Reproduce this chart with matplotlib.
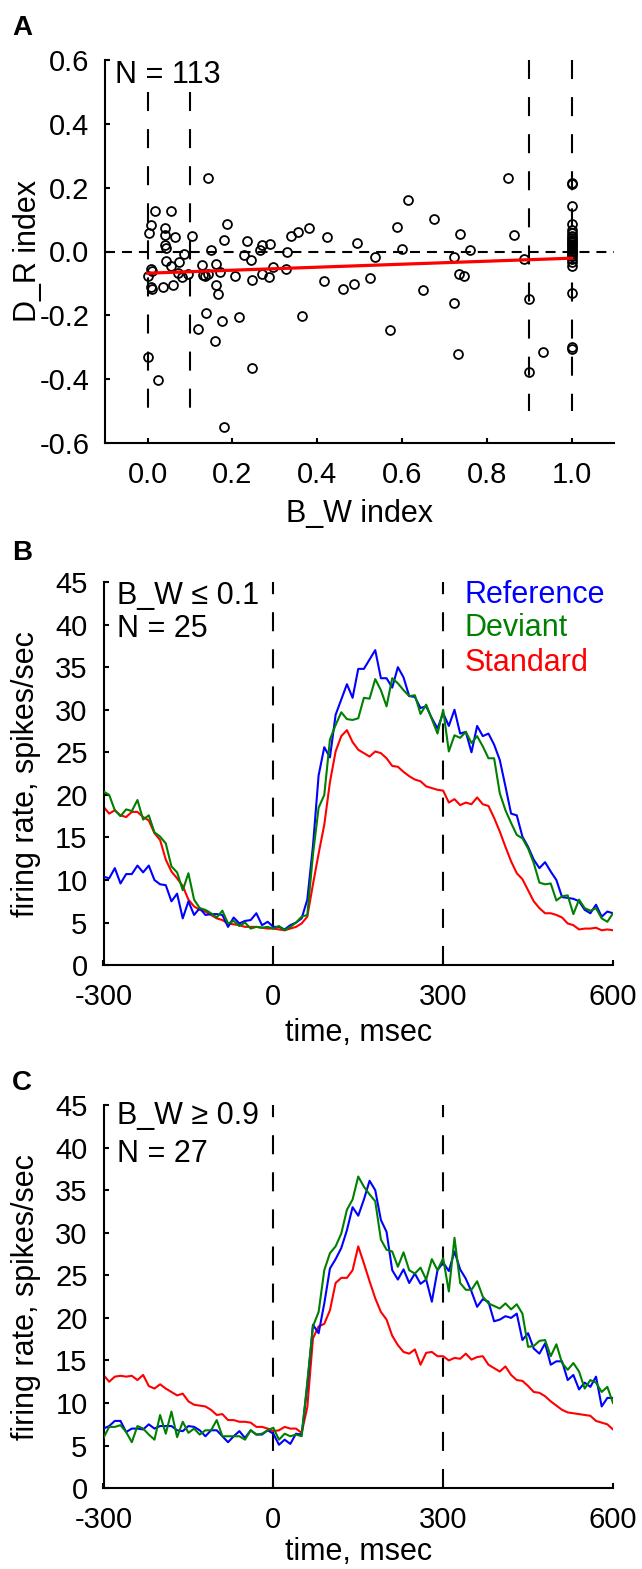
import matplotlib
matplotlib.use("Agg")
import matplotlib.pyplot as plt
import numpy as np

plt.rcParams['font.family'] = ['Liberation Sans', 'DejaVu Sans']
plt.rcParams['axes.unicode_minus'] = False
plt.rcParams['lines.scale_dashes'] = False

# ---------------- Panel A data ----------------
bw_index = [
    # B_W <= 0.1
    0.017, 0.054, 0.008, 0.002, 0.042, 0.042, 0.064, 0.042, 0.044, 0.086,
    0.044, 0.055, 0.075, 0.071, 0.082, 0.008, 0.009, 0.000, 0.008, 0.009,
    0.035, 0.060, 0.096, 0.000, 0.024,
    # 0.1 < B_W < 0.9
    0.1415, 0.105, 0.188, 0.179, 0.150, 0.234, 0.269, 0.127, 0.130, 0.136,
    0.143, 0.161, 0.170, 0.206, 0.228, 0.244, 0.246, 0.269, 0.264, 0.160,
    0.167, 0.137, 0.119, 0.176, 0.215, 0.159, 0.245, 0.179,
    0.288, 0.287, 0.295, 0.328, 0.327, 0.337, 0.354, 0.380, 0.422, 0.415,
    0.363, 0.461, 0.487, 0.494, 0.524, 0.536, 0.571, 0.587, 0.600, 0.613,
    0.649, 0.675, 0.723, 0.723, 0.737, 0.735, 0.745, 0.732,
    0.761, 0.851, 0.865, 0.887,
    # B_W >= 0.9
    0.900, 0.900, 0.932,
    1.0, 1.0, 1.0, 1.0, 1.0, 1.0, 1.0, 1.0, 1.0, 1.0, 1.0, 1.0,
    1.0, 1.0, 1.0, 1.0, 1.0, 1.0, 1.0, 1.0, 1.0, 1.0, 1.0, 1.0,
]
dr_index = [
    0.126, 0.127, 0.084, 0.058, 0.075, 0.052, 0.046, 0.021, 0.011, -0.008,
    -0.031, -0.046, -0.033, -0.066, -0.081, -0.056, -0.062, -0.077, -0.112, -0.118,
    -0.111, -0.106, -0.072, -0.331, -0.403,
    0.229, 0.047, 0.085, 0.036, 0.006, 0.033, 0.019, -0.042, -0.074, -0.078,
    -0.070, -0.040, -0.063, -0.076, -0.011, -0.027, -0.088, -0.070, 0.006, -0.106,
    -0.133, -0.192, -0.243, -0.217, -0.204, -0.281, -0.365, -0.549,
    0.025, -0.080, -0.047, -0.001, -0.055, 0.048, 0.061, 0.073, 0.046, -0.093,
    -0.202, -0.119, -0.103, 0.027, -0.084, -0.018, -0.245, 0.078, 0.007, 0.161,
    -0.122, 0.101, -0.016, -0.161, 0.055, -0.071, -0.077, -0.320,
    0.006, 0.229, 0.051, -0.023,
    -0.148, -0.377, -0.316,
    0.216, 0.212, 0.144, 0.087, 0.066, 0.058, 0.050, 0.043, 0.036, 0.030, 0.024, 0.019,
    0.013, 0.008, 0.003, -0.002, -0.008, -0.013, -0.023, -0.033, -0.044, -0.131, -0.300, -0.304,
]
fit_x = [0.0, 1.0]
fit_y = [-0.068, -0.021]

# ---------------- Panels B / C data ----------------
time_ms = list(range(-300, 601, 10))

b_reference = [
    10.4, 10.2, 11.4, 9.6, 10.7, 10.7, 11.7, 10.9, 11.7, 10.0,
    9.5, 9.4, 7.5, 8.4, 5.5, 7.5, 5.9, 6.7, 5.9, 6.0,
    6.0, 5.9, 4.5, 5.6, 4.9, 5.2, 5.3, 6.1, 4.7, 5.1,
    4.5,
    4.5, 4.2, 4.7, 5.0, 5.5, 7.7, 14.0, 22.3, 25.6, 24.4,
    29.4, 31.2, 33.0, 31.4, 34.8, 34.8, 35.9, 37.0, 33.7, 33.7,
    32.6, 35.0, 33.8, 31.6, 31.5, 30.2, 30.4, 29.0, 27.8, 29.6,
    28.1, 30.0, 27.2, 27.4, 25.0, 28.1, 26.9, 27.2, 25.9, 24.1,
    21.0, 17.8, 17.6, 15.1, 13.9, 12.4, 11.4, 12.1, 11.0, 10.0,
    8.0, 7.9, 7.8, 7.5, 6.5, 6.1, 7.1, 5.7, 6.3, 6.1,
]
b_deviant = [
    20.4, 20.0, 18.2, 17.5, 18.3, 18.1, 19.4, 17.1, 17.6, 15.6,
    15.1, 14.3, 11.6, 10.9, 8.8, 10.8, 7.7, 6.7, 6.5, 6.1,
    5.6, 6.4, 4.9, 5.2, 4.6, 5.0, 4.3, 4.5, 4.4, 4.5,
    4.3,
    4.6, 4.1, 4.5, 5.0, 5.7, 5.9, 13.0, 18.5, 20.0, 26.5,
    28.2, 29.7, 28.9, 28.8, 29.0, 31.4, 31.3, 33.6, 32.3, 30.4,
    33.7, 33.1, 32.3, 31.6, 31.7, 29.5, 30.6, 28.9, 27.2, 30.0,
    25.1, 27.0, 26.7, 27.4, 26.1, 26.9, 25.7, 24.3, 24.3, 20.2,
    18.2, 16.7, 15.3, 14.9, 13.7, 12.0, 9.7, 9.5, 9.6, 7.6,
    8.1, 8.2, 6.0, 7.7, 6.7, 6.4, 6.7, 5.5, 5.1, 6.1,
]
b_standard = [
    18.6, 17.8, 18.2, 17.6, 17.4, 18.0, 18.0, 17.4, 17.0, 15.5,
    14.7, 12.4, 11.0, 10.2, 9.3, 7.7, 6.9, 6.5, 6.3, 5.9,
    5.5, 5.3, 4.9, 4.8, 4.7, 4.5, 4.5, 4.5, 4.4, 4.3,
    4.3,
    4.2, 4.1, 4.3, 4.5, 4.9, 5.7, 9.5, 13.1, 16.5, 21.5,
    25.1, 26.9, 27.6, 26.2, 25.3, 24.9, 24.5, 25.1, 24.9, 24.3,
    23.4, 23.3, 22.7, 22.2, 21.8, 21.6, 21.0, 20.8, 20.6, 20.5,
    19.1, 19.5, 18.8, 19.1, 18.9, 19.7, 18.9, 18.7, 17.3, 15.7,
    13.9, 12.2, 10.8, 10.1, 8.8, 7.5, 6.7, 6.1, 6.1, 5.9,
    5.6, 4.9, 4.7, 4.2, 4.3, 4.3, 4.4, 4.1, 4.2, 4.1,
]

c_reference = [
    7.0, 7.3, 7.9, 7.9, 6.6, 7.0, 7.0, 6.9, 7.5, 7.0,
    7.3, 7.3, 7.3, 6.8, 6.7, 7.3, 7.2, 6.8, 6.1, 6.8,
    6.8, 6.1, 5.4, 6.1, 6.7, 5.9, 6.8, 6.3, 6.3, 6.8,
    6.4,
    5.1, 5.7, 5.2, 6.4, 6.3, 12.0, 19.2, 18.2, 21.7, 25.8,
    26.9, 28.2, 30.3, 33.0, 32.0, 33.9, 36.1, 35.0, 31.5, 30.1,
    25.6, 24.5, 25.7, 24.1, 25.2, 24.0, 24.5, 21.9, 25.6, 26.5,
    25.5, 27.8, 25.7, 24.6, 23.1, 21.3, 22.2, 21.9, 19.6, 19.8,
    20.2, 20.0, 20.5, 17.4, 18.2, 16.4, 15.8, 17.0, 14.5, 14.9,
    14.9, 12.7, 13.3, 11.6, 12.4, 11.9, 13.1, 9.6, 10.6, 10.6,
]
c_deviant = [
    5.9, 7.2, 7.2, 7.4, 6.6, 5.4, 7.3, 7.0, 6.3, 5.7,
    8.6, 6.4, 9.0, 6.0, 7.8, 6.5, 7.0, 6.3, 6.8, 6.8,
    8.0, 6.1, 6.1, 6.1, 6.1, 5.7, 6.8, 6.3, 6.4, 6.8,
    7.1,
    5.7, 6.4, 6.1, 6.3, 6.1, 12.5, 19.0, 20.7, 25.6, 27.6,
    28.4, 29.9, 32.7, 33.9, 36.6, 35.4, 34.5, 33.7, 29.2, 28.0,
    27.8, 26.0, 27.7, 25.6, 25.2, 25.9, 24.5, 26.9, 25.6, 27.0,
    23.1, 29.4, 24.1, 23.3, 23.3, 24.3, 22.5, 21.7, 21.4, 21.1,
    21.7, 21.0, 21.6, 20.5, 16.6, 16.7, 17.3, 17.4, 15.5, 16.9,
    14.7, 13.9, 14.7, 13.7, 11.7, 12.7, 12.4, 11.3, 11.9, 10.0,
]
c_standard = [
    13.3, 12.5, 13.1, 13.2, 13.1, 13.2, 12.7, 13.3, 12.0, 11.7,
    12.2, 11.7, 11.3, 10.9, 11.1, 10.2, 9.8, 9.7, 9.6, 9.2,
    8.6, 8.7, 8.0, 8.0, 7.8, 7.8, 7.7, 7.2, 7.2, 7.0,
    6.7,
    6.8, 7.2, 7.0, 7.0, 6.5, 9.5, 17.6, 19.0, 19.3, 20.9,
    24.1, 24.7, 24.7, 25.6, 28.4, 26.4, 24.3, 22.3, 20.7, 19.8,
    17.9, 16.8, 16.0, 15.8, 16.3, 14.5, 15.9, 16.0, 15.5, 15.5,
    15.0, 15.3, 15.2, 15.8, 15.1, 15.4, 15.5, 14.5, 14.1, 13.7,
    14.3, 13.3, 12.7, 12.6, 12.0, 11.3, 11.2, 10.8, 10.2, 9.7,
    9.2, 8.9, 8.8, 8.7, 8.6, 8.5, 7.9, 7.7, 7.5, 6.9,
]

a_yticks = [-0.6, -0.4, -0.2, 0.0, 0.2, 0.4, 0.6]
a_xticks = [0.0, 0.2, 0.4, 0.6, 0.8, 1.0]
psth_xticks = [-300, 0, 300, 600]
psth_yticks = [0, 5, 10, 15, 20, 25, 30, 35, 40, 45]
legend_names = ["Reference", "Deviant", "Standard"]
legend_colors = ["#0000ff", "#008000", "#ff0000"]

FS = 22       # labels / annotations
FS_TICK = 21  # tick labels
W, H = 642, 1569
fig = plt.figure(figsize=(W / 100, H / 100), dpi=100)


def style_axes(ax):
    for s in ("top", "right"):
        ax.spines[s].set_visible(False)
    for s in ("left", "bottom"):
        ax.spines[s].set_linewidth(1.5)
    ax.tick_params(direction="in", length=3.5, width=1.5, labelsize=FS_TICK)
    ax.tick_params(axis="x", pad=13.0)
    ax.tick_params(axis="y", pad=11.5)


# ---------------- Panel A ----------------
axA = fig.add_axes([105.3 / W, 1 - 443 / H, 508.7 / W, 383 / H])
style_axes(axA)
axA.set_xlim(-0.1, 1.1)
axA.set_ylim(-0.6, 0.6)
axA.set_xticks(a_xticks)
axA.set_xticklabels([f"{v:.1f}" for v in a_xticks])
axA.set_yticks(a_yticks)
axA.set_yticklabels([f"{v:.1f}" for v in a_yticks])
for xv, top in [(0.0, 0.5), (0.1, 0.5), (0.9, 0.6), (1.0, 0.6)]:
    axA.plot([xv, xv], [top, -0.5], color="k", lw=1.5, dashes=(13.7, 13), zorder=1)
axA.plot([-0.1, 1.1], [0, 0], color="k", lw=1.5, dashes=(7.2, 5), zorder=1)
axA.plot(bw_index, dr_index, "o", mfc="none", mec="k", ms=6.4, mew=1.3, zorder=2,
         clip_on=False)
axA.plot(fit_x, fit_y, color="#ff0000", lw=2.3, zorder=3)
axA.set_xlabel("B_W index", fontsize=FS)
axA.xaxis.set_label_coords(0.5, -0.147)
axA.set_ylabel("D_R index", fontsize=FS)
axA.yaxis.set_label_coords(-0.1225, 0.5)
axA.text(0.02, 0.94, "N = 113", transform=axA.transAxes, fontsize=FS,
         ha="left", va="baseline")


# ---------------- Panels B / C ----------------
def psth_panel(rect, ref, dev, std, line1, y1, line2, y2, xlab_y):
    ax = fig.add_axes(rect)
    style_axes(ax)
    ax.set_xlim(-300, 600)
    ax.set_ylim(0, 45)
    ax.set_xticks(psth_xticks)
    ax.set_yticks(psth_yticks)
    for xv in (0, 300):
        ax.plot([xv, xv], [0, 45], color="k", lw=1.5, dashes=(13.7, 13), zorder=1)
    ax.plot(time_ms, std, color=legend_colors[2], lw=1.5, zorder=2)
    ax.plot(time_ms, ref, color=legend_colors[0], lw=1.5, zorder=3)
    ax.plot(time_ms, dev, color=legend_colors[1], lw=1.5, zorder=4)
    ax.set_xlabel("time, msec", fontsize=FS)
    ax.xaxis.set_label_coords(0.5, xlab_y)
    ax.set_ylabel("firing rate, spikes/sec", fontsize=FS)
    ax.yaxis.set_label_coords(-0.1227, 0.5)
    ax.text(0.026, y1, line1, transform=ax.transAxes, fontsize=FS,
            ha="left", va="baseline")
    ax.text(0.026, y2, line2, transform=ax.transAxes, fontsize=FS,
            ha="left", va="baseline")
    return ax


axB = psth_panel([103.5 / W, 1 - 965.2 / H, 509.5 / W, 383.2 / H],
                 b_reference, b_deviant, b_standard,
                 "B_W \u2264 0.1", 0.943, "N = 25", 0.856, -0.138)
for name, col, yy in zip(legend_names, legend_colors, [0.944, 0.859, 0.769]):
    axB.text(0.7095, yy, name, color=col, transform=axB.transAxes, fontsize=FS,
             ha="left", va="baseline")

axC = psth_panel([103.5 / W, 1 - 1488.2 / H, 509.5 / W, 383.2 / H],
                 c_reference, c_deviant, c_standard,
                 "B_W \u2265 0.9", 0.950, "N = 27", 0.852, -0.128)

# panel letters
for letter, ybase in [("A", 35), ("B", 560), ("C", 1090)]:
    fig.text(12 / W, 1 - ybase / H, letter, fontsize=20, fontweight="bold",
             ha="left", va="baseline")

fig.savefig("out.png", dpi=100)
